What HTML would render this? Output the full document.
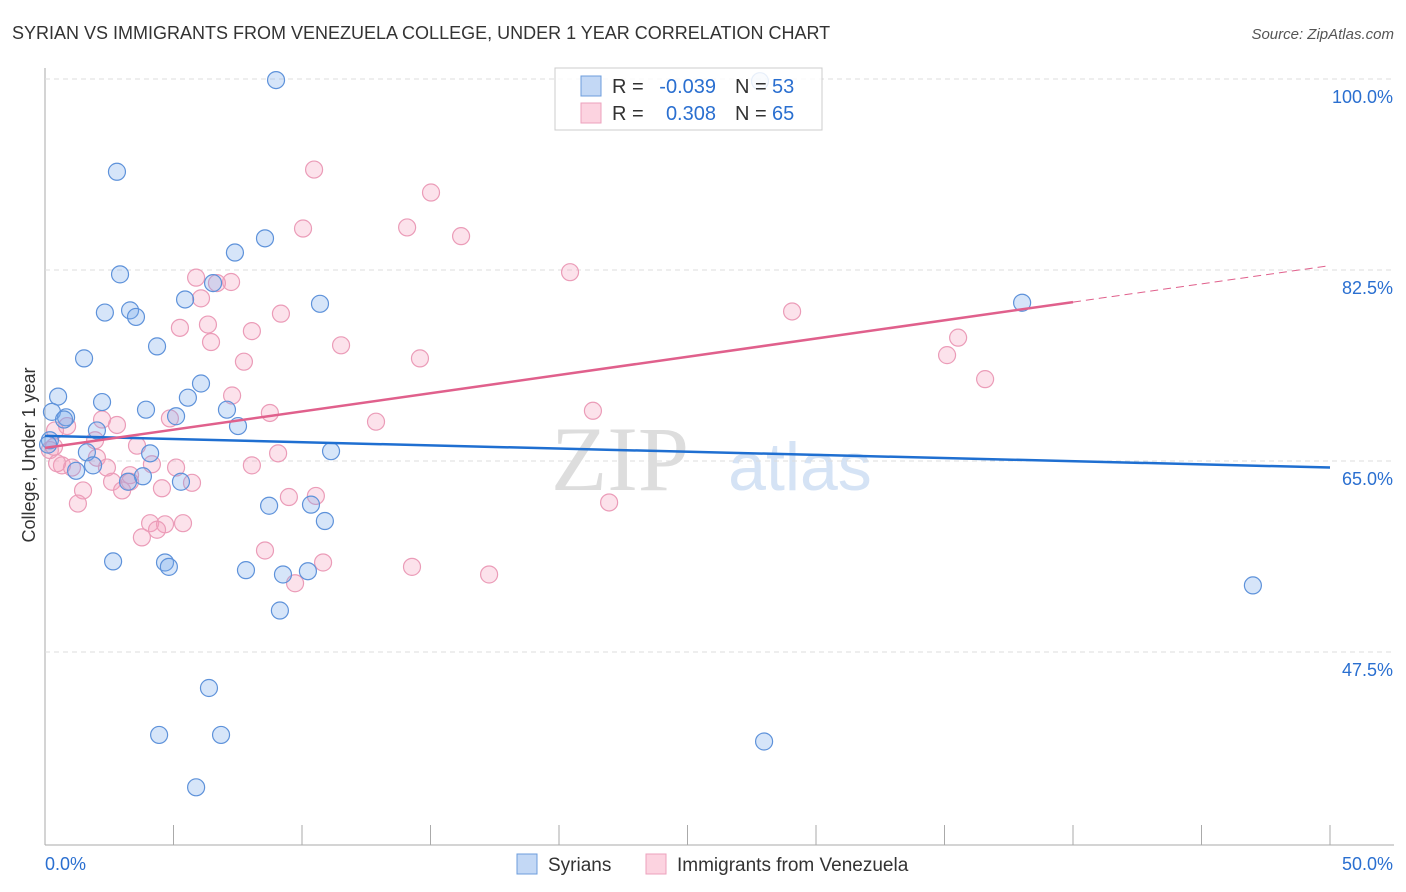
<!DOCTYPE html>
<html><head><meta charset="utf-8"><style>
body{margin:0;background:#fff;font-family:"Liberation Sans",sans-serif}
svg{display:block}
</style></head><body>
<svg id="c" width="1406" height="892">
<text x="12" y="39" font-size="18" fill="#333">SYRIAN VS IMMIGRANTS FROM VENEZUELA COLLEGE, UNDER 1 YEAR CORRELATION CHART</text>
<text x="1394" y="39" font-size="15" fill="#555" text-anchor="end" font-style="italic">Source: ZipAtlas.com</text>
<text x="35" y="455" font-size="18" fill="#333" text-anchor="middle" transform="rotate(-90 35 455)">College, Under 1 year</text>
<text x="620" y="490" font-size="92" fill="#ddd" font-family="Liberation Serif,serif" text-anchor="middle">ZIP</text>
<text x="800" y="490" font-size="68" fill="#d5e3f5" text-anchor="middle">atlas</text>
<g id="grid"></g><g id="pts"></g><g id="lines"></g>
<g>
<rect x="555" y="68" width="267" height="62" fill="rgba(255,255,255,0.85)" stroke="#ccc"/>
<rect x="581" y="76" width="20" height="20" fill="#c3d8f5" stroke="#6d9ddc"/>
<rect x="581" y="103" width="20" height="20" fill="#fcd3e0" stroke="#eca2bd"/>
<text x="612" y="93" font-size="20" fill="#333">R =</text>
<text x="716" y="93" font-size="20" fill="#2a6fd0" text-anchor="end">-0.039</text>
<text x="735" y="93" font-size="20" fill="#333">N =</text>
<text x="772" y="93" font-size="20" fill="#2a6fd0">53</text>
<text x="612" y="120" font-size="20" fill="#333">R =</text>
<text x="716" y="120" font-size="20" fill="#2a6fd0" text-anchor="end">0.308</text>
<text x="735" y="120" font-size="20" fill="#333">N =</text>
<text x="772" y="120" font-size="20" fill="#2a6fd0">65</text>
</g>
<g>
<rect x="517" y="854" width="20" height="20" fill="#c3d8f5" stroke="#6d9ddc"/>
<text x="548" y="871" font-size="19" fill="#333">Syrians</text>
<rect x="646" y="854" width="20" height="20" fill="#fcd3e0" stroke="#eca2bd"/>
<text x="677" y="871" font-size="19" fill="#333">Immigrants from Venezuela</text>
</g>
</svg>
<script>
const xTicks=[0,5,10,15,20,25,30,35,40,45,50];
const yTicks=[47.5,65,82.5,100];
const yTickLabels=["47.5%","65.0%","82.5%","100.0%"];
const syrX=[8.99,2.80,8.56,7.39,2.92,5.45,6.54,10.70,2.33,3.31,3.54,4.36,1.52,6.07,0.51,2.22,5.56,3.93,7.08,0.27,0.82,5.10,0.74,7.51,2.02,0.19,1.63,4.09,11.13,1.21,1.87,3.81,5.29,3.23,8.72,10.35,10.89,2.65,4.67,4.82,7.82,9.26,10.23,9.14,6.38,4.44,6.85,5.88,27.98,38.02,47.00,27.82,0.12];
const syrY=[99.9,91.5,85.4,84.1,82.1,79.8,81.3,79.4,78.6,78.8,78.2,75.5,74.4,72.1,70.9,70.4,70.8,69.7,69.7,69.5,69.0,69.1,68.8,68.2,67.8,66.9,65.8,65.7,65.9,64.1,64.6,63.6,63.1,63.1,60.9,61.0,59.5,55.8,55.7,55.3,55.0,54.6,54.9,51.3,44.2,39.9,39.9,35.1,39.3,79.5,53.6,99.8,66.5];
const venX=[10.47,15.02,14.09,10.04,16.19,20.43,5.88,7.24,6.69,6.07,29.07,9.18,5.25,6.34,8.05,6.46,11.52,14.59,7.74,35.53,35.10,36.58,7.28,8.75,12.88,21.32,2.22,4.86,2.80,0.86,1.95,3.58,9.07,2.02,4.16,2.41,0.66,1.05,8.05,5.10,3.31,5.72,2.61,1.48,3.00,4.55,9.49,10.54,1.28,21.95,4.09,4.67,5.37,4.36,3.77,8.56,10.82,14.28,17.28,9.73,0.39,0.19,0.47,3.31,0.35];
const venY=[91.7,89.6,86.4,86.3,85.6,82.3,81.8,81.4,81.3,79.9,78.7,78.5,77.2,77.5,76.9,75.9,75.6,74.4,74.1,76.3,74.7,72.5,71.0,69.4,68.6,69.6,68.8,68.9,68.3,68.2,66.9,66.4,65.7,65.3,64.7,64.4,64.6,64.4,64.6,64.4,63.7,63.0,63.1,62.3,62.3,62.5,61.7,61.8,61.1,61.2,59.3,59.2,59.3,58.7,58.0,56.8,55.7,55.3,54.6,53.8,67.8,66.0,64.8,63.1,66.3];
const syrTrend=[67.3,64.4];
const venTrend=[66.2,82.9];
const NS="http://www.w3.org/2000/svg";
const X=v=>45+v*25.7, Y=v=>79+(100-v)*10.914;
function mk(tag,attrs,parent){const e=document.createElementNS(NS,tag);for(const k in attrs)e.setAttribute(k,attrs[k]);document.getElementById(parent).appendChild(e);return e;}
let ax=mk('line',{x1:45,y1:68,x2:45,y2:845,stroke:'#aaa'},'grid');


let bx=mk('line',{x1:45,y1:845,x2:1394,y2:845,stroke:'#aaa'},'grid');


yTicks.forEach((t,i)=>{
 let g=mk('line',{x1:45,y1:Y(t),x2:1394,y2:Y(t),stroke:'#ddd','stroke-dasharray':'5,4'},'grid');
 
 
 let l=mk('text',{x:1393,y:Y(t)+24,'font-size':18,fill:'#2a6fd0','text-anchor':'end'},'grid');l.textContent=yTickLabels[i];
 
 
});
xTicks.forEach(t=>{
 let k=mk('line',{x1:X(t),y1:825,x2:X(t),y2:845,stroke:'#aaa'},'grid');
 
 
});
let l0=mk('text',{x:45,y:870,'font-size':18,fill:'#2a6fd0'},'grid');l0.textContent='0.0%';


let l1=mk('text',{x:1393,y:870,'font-size':18,fill:'#2a6fd0','text-anchor':'end'},'grid');l1.textContent='50.0%';


venX.forEach((v,i)=>{
 let c=mk('circle',{cx:X(v),cy:Y(venY[i]),r:8.5,fill:'rgba(244,160,190,0.3)',stroke:'#eb9cb8','stroke-width':1.2},'pts');
 
 
});
syrX.forEach((v,i)=>{
 let c=mk('circle',{cx:X(v),cy:Y(syrY[i]),r:8.5,fill:'rgba(120,170,235,0.3)',stroke:'#5e92da','stroke-width':1.2},'pts');
 
 
});
let bl=mk('line',{x1:X(0),y1:Y(syrTrend[0]),x2:X(50),y2:Y(syrTrend[1]),stroke:'#1f6fd1','stroke-width':2.5},'lines');


const vAt=x=>venTrend[0]+(venTrend[1]-venTrend[0])*x/50;
let pl=mk('line',{x1:X(0),y1:Y(vAt(0)),x2:X(40),y2:Y(vAt(40)),stroke:'#e0608c','stroke-width':2.5},'lines');


let pd=mk('line',{x1:X(40),y1:Y(vAt(40)),x2:X(50),y2:Y(vAt(50)),stroke:'#e0608c','stroke-width':1,'stroke-dasharray':'8,5'},'lines');


</script>
</body></html>
